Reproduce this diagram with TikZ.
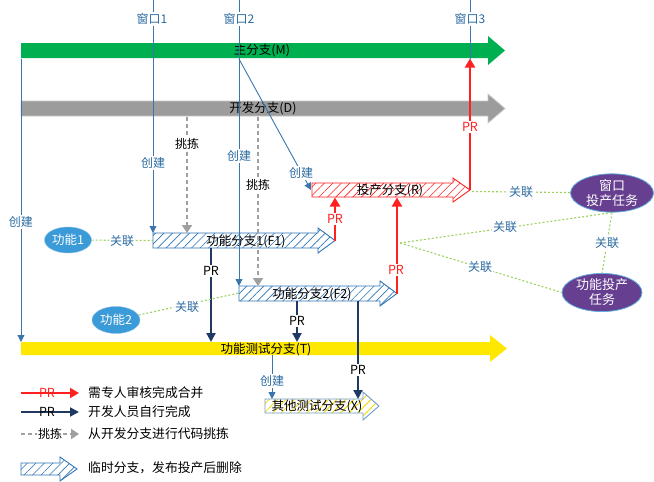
\documentclass[tikz,border=0pt]{standalone}
\usepackage{fontspec}
\setmainfont{Noto Sans CJK SC}
\usetikzlibrary{arrows.meta,shapes.geometric,patterns.meta}
\definecolor{cgreen}{HTML}{00B050}
\definecolor{cgray}{HTML}{9C9C9C}
\definecolor{cyellow}{HTML}{FFE800}
\definecolor{cblue}{HTML}{2A6AA0}
\definecolor{cline}{HTML}{3A76AC}
\definecolor{cnavy}{HTML}{1F3864}
\definecolor{cred}{HTML}{FF2020}
\definecolor{cpurple}{HTML}{663F91}
\definecolor{cball}{HTML}{3B9AD8}
\definecolor{cdot}{HTML}{9BD160}
\definecolor{cpick}{HTML}{A0A0A0}
\definecolor{chatch}{HTML}{2E75B6}
\definecolor{cyhatch}{HTML}{F5D800}
\newcommand\flowarrow[7]{\path[#1] (#2,#5-#6) -- (#3,#5-#6) -- (#3,#5-#7) -- (#4,#5) -- (#3,#5+#7) -- (#3,#5+#6) -- (#2,#5+#6) -- cycle;}
\begin{document}
\begin{tikzpicture}[x=1pt,y=-1pt,
  lbl/.style={font=\fontsize{12.5}{13}\selectfont,inner sep=1pt},
  blbl/.style={lbl,font=\fontsize{12}{13}\selectfont,text=cblue,fill=white},
  klbl/.style={lbl,font=\fontsize{12}{13}\selectfont,fill=white},
  rlbl/.style={lbl,font=\fontsize{12.5}{13}\selectfont,text=cred,fill=white},
  nlbl/.style={lbl,font=\fontsize{12.5}{13}\selectfont,text=black,fill=white},
  leg/.style={lbl,font=\fontsize{12.8}{14}\selectfont,anchor=west},
  wline/.style={cline,line width=0.9pt,-{Triangle[width=7pt,length=7pt]}},
  prred/.style={cred,line width=2.3pt,-{Triangle[width=10pt,length=9pt]}},
  prnavy/.style={cnavy,line width=2.1pt,-{Triangle[width=9pt,length=9pt]}},
  pick/.style={cpick,line width=2.1pt,dash pattern=on 4pt off 3pt,-{Triangle[width=10pt,length=8pt]}},
  link/.style={cdot,line width=1.1pt,dash pattern=on 2pt off 2pt},
  tmpblue/.style={preaction={fill=white},pattern={Lines[angle=45,distance=6pt,line width=0.6pt]},pattern color=chatch,draw=chatch,line width=0.9pt},
  tmpred/.style={preaction={fill=white},pattern={Lines[angle=45,distance=6pt,line width=0.6pt]},pattern color=cred,draw=cred,line width=0.9pt},
  tmpyel/.style={preaction={fill=white},pattern={Lines[angle=45,distance=6pt,line width=0.8pt]},pattern color=cyhatch,draw=chatch!70,line width=0.9pt},
  ball/.style={ellipse,fill=cball,draw=cball!60,text=white,inner sep=0pt,font=\fontsize{12.5}{13}\selectfont},
  task/.style={ellipse,fill=cpurple,draw=cball!80,line width=0.8pt,text=white,inner sep=0pt,align=center,font=\fontsize{13}{15}\selectfont}
]
\useasboundingbox (0,0) rectangle (654,482);
% long-lived branches
\flowarrow{fill=cgreen}{21}{488}{505}{50.5}{7.5}{14.5}
\flowarrow{fill=cgray,draw=cgray!55,line width=0.8pt}{21}{488}{505}{108.5}{7.5}{14.5}
\flowarrow{fill=cyellow}{21}{490}{507}{348.5}{6.5}{13.5}
\node[lbl] (Mlbl) at (262,50.5) {主分支(M)};
\node[lbl] (Dlbl) at (263,108.5) {开发分支(D)};
% temporary branches
\flowarrow{tmpblue}{153}{318}{335}{240.5}{7.5}{12.5}
\flowarrow{tmpblue}{239}{380}{397}{293.5}{7.5}{12.5}
\flowarrow{tmpred}{312}{453}{470}{190}{7}{12}
\flowarrow{tmpyel}{265}{363}{379}{406}{7}{14}
\node[lbl] (F1lbl) at (246,241) {功能分支1(F1)};
\node[lbl] (F2lbl) at (312,294) {功能分支2(F2)};
\node[lbl] (Rlbl) at (390,190.5) {投产分支(R)};
\node[lbl] (Xlbl) at (317,406.5) {其他测试分支(X)};
\node[lbl] (Tlbl) at (266,349) {功能测试分支(T)};
% coordinates
\coordinate (w1top) at (153,0);   \coordinate (F1w) at (153,233);
\coordinate (w2top) at (239,0);   \coordinate (F2w) at (239,286);
\coordinate (w3top) at (470,0);   \coordinate (Mbot3) at (470,58.5);
\coordinate (Mbot2) at (239,59);  \coordinate (Rin) at (311,190);
\coordinate (Mbot0) at (21,58.5); \coordinate (Ttop0) at (21,342);
\coordinate (Tbot) at (272,355);  \coordinate (Xtop) at (272,399);
\coordinate (Dp1) at (187,116.5); \coordinate (F1p) at (187,233);
\coordinate (Dp2) at (258,116.5); \coordinate (F2p) at (258,286);
\coordinate (F1b) at (211,248);   \coordinate (T1) at (211,342);
\coordinate (F2b) at (297,301);   \coordinate (T2) at (297,342);
\coordinate (F2c) at (358,301);   \coordinate (Xt) at (358,399);
\coordinate (F1tip) at (335,240.5); \coordinate (Rb1) at (335,197.5);
\coordinate (F2tip) at (397,293.5); \coordinate (Rb2) at (397,197.5);
\coordinate (Rtip) at (470,190);
\coordinate (Rlink) at (472,191.5);
\coordinate (F1left) at (153,240.5);
\coordinate (F2left) at (239,293);
\coordinate (hub) at (400,243);
% ellipses
\node[ball,minimum width=47pt,minimum height=26pt] (f1) at (68,240) {功能1};
\node[ball,minimum width=48pt,minimum height=27pt] (f2) at (116,320) {功能2};
\node[task,minimum width=83pt,minimum height=38pt] (wt) at (612,193) {窗口\\投产任务};
\node[task,minimum width=80pt,minimum height=35pt] (ft) at (602,292.5) {功能投产\\任务};
% creation lines
\draw[wline] (w1top) -- (F1w);
\draw[wline] (w2top) -- (F2w);
\draw[cline,line width=0.9pt] (w3top) -- (Mbot3);
\draw[wline] (Mbot2) -- (Rin);
\draw[wline] (Mbot0) -- (Ttop0);
\draw[wline] (Tbot) -- (Xtop);
% cherry-pick
\draw[pick] (Dp1) -- (F1p);
\draw[pick] (Dp2) -- (F2p);
% PRs
\draw[prnavy] (F1b) -- (T1);
\draw[prnavy] (F2b) -- (T2);
\draw[prnavy] (F2c) -- (Xt);
\draw[prred] (F1tip) -- (Rb1);
\draw[prred] (F2tip) -- (Rb2);
\draw[prred] (Rtip) -- (Mbot3);
% links
\draw[link] (f1) -- (F1left);
\draw[link] (f2) -- (F2left);
\draw[link] (Rlink) -- (wt);
\draw[link] (hub) -- (wt.south);
\draw[link] (hub) -- (ft.west);
\draw[link] (wt.south) -- (ft.north);
% labels
\node[blbl] (w1) at (152,19) {窗口1};
\node[blbl] (w2) at (239,19) {窗口2};
\node[blbl] (w3) at (470,19) {窗口3};
\node[blbl] (c1) at (153,163) {创建};
\node[blbl] (c2) at (239,156) {创建};
\node[blbl] (c3) at (301,173) {创建};
\node[blbl] (c0) at (21,222) {创建};
\node[blbl] (c4) at (272,381) {创建};
\node[klbl] (p1) at (187,144) {挑拣};
\node[klbl] (p2) at (258,185) {挑拣};
\node[nlbl] (pr1) at (211,271) {PR};
\node[nlbl] (pr2) at (297,321) {PR};
\node[nlbl] (pr3) at (358,370) {PR};
\node[rlbl] (pr4) at (335,219) {PR};
\node[rlbl] (pr5) at (396,270) {PR};
\node[rlbl] (pr6) at (470,127) {PR};
\node[blbl] (l1) at (122,241) {关联};
\node[blbl] (l2) at (187,307) {关联};
\node[blbl] (l3) at (521,192) {关联};
\node[blbl] (l4) at (505,227) {关联};
\node[blbl] (l5) at (480,267) {关联};
\node[blbl] (l6) at (607,243) {关联};
% legend
\coordinate (lg1a) at (21,393); \coordinate (lg1b) at (79,393);
\coordinate (lg2a) at (21,412); \coordinate (lg2b) at (79,412);
\coordinate (lg3a) at (21,434); \coordinate (lg3b) at (79,434);
\draw[prred,line width=1.8pt] (lg1a) -- (lg1b);
\node[lbl,text=cred] (lgpr1) at (47,393) {PR};
\draw[prnavy,line width=1.8pt] (lg2a) -- (lg2b);
\node[lbl] (lgpr2) at (47,412) {PR};
\draw[pick] (lg3a) -- (lg3b);
\node[klbl] (lgpk) at (50,434) {挑拣};
\flowarrow{tmpblue}{21}{60}{77}{469}{6}{12}
\node[leg] (lt1) at (87,393) {需专人审核完成合并};
\node[leg] (lt2) at (87,412) {开发人员自行完成};
\node[leg] (lt3) at (87,434) {从开发分支进行代码挑拣};
\node[leg] (lt4) at (87,468) {临时分支，发布投产后删除};
\end{tikzpicture}
\end{document}
